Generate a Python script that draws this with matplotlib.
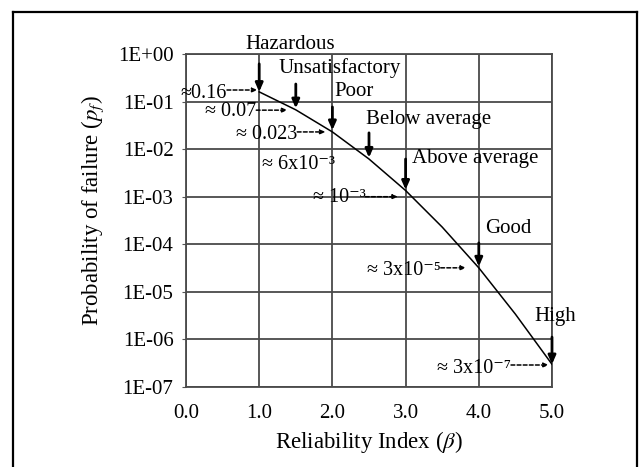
import matplotlib
matplotlib.use("Agg")
import matplotlib.pyplot as plt
from matplotlib.lines import Line2D

plt.rcParams["font.family"] = ["Liberation Serif", "DejaVu Serif"]
plt.rcParams["mathtext.fontset"] = "stix"

# curva beta - pf
beta = [1.0, 1.5, 2.0, 2.5, 3.0, 3.5, 4.0, 4.5, 5.0]
pf = [0.16, 0.067, 0.023, 6.2e-3, 1.35e-3, 2.3e-4, 3.2e-5, 3.4e-6, 3.0e-7]

# niveles de desempeño (flechas verticales)
niveles = ["Hazardous", "Unsatisfactory", "Poor", "Below average",
           "Above average", "Good", "High"]
beta_niveles = [1.0, 1.5, 2.0, 2.5, 3.0, 4.0, 5.0]

# etiquetas aproximadas de pf (flechas horizontales)
etiquetas_pf = ["≈0.16", "≈ 0.07", "≈ 0.023", "≈ 6x10⁻³", "≈ 10⁻³",
                "≈ 3x10⁻⁵", "≈ 3x10⁻⁷"]

yticks = [1, 1e-1, 1e-2, 1e-3, 1e-4, 1e-5, 1e-6, 1e-7]
yticklabels = ["1E+00", "1E-01", "1E-02", "1E-03", "1E-04", "1E-05", "1E-06", "1E-07"]
xticks = [0, 1, 2, 3, 4, 5]
xticklabels = ["0.0", "1.0", "2.0", "3.0", "4.0", "5.0"]

fig = plt.figure(figsize=(6.4, 4.67), dpi=100)
ax = fig.add_axes([186 / 640, 1 - 387 / 467, 366 / 640, 333 / 467])

ax.set_yscale("log")
ax.set_xlim(0, 5)
ax.set_ylim(1e-7, 1)
ax.set_xticks(xticks)
ax.set_xticklabels(xticklabels)
ax.set_yticks(yticks)
ax.set_yticklabels(yticklabels)
ax.minorticks_off()
ax.tick_params(axis="y", labelsize=15, length=3, pad=6, color="#555555")
ax.tick_params(axis="x", labelsize=15, length=0, pad=12)
ax.grid(True, color="#4a4a4a", linewidth=1.3)
for s in ax.spines.values():
    s.set_color("#4a4a4a")
    s.set_linewidth(1.3)

ax.plot(beta, pf, color="black", linewidth=1.1, zorder=3)

ax.set_xlabel(r"Reliability Index ($\beta$)", fontsize=16.5)
ax.set_ylabel(r"Probability of failure ($p_f$)", fontsize=16.5)
ax.xaxis.set_label_coords(0.5, -0.125)
ax.yaxis.set_label_coords(-0.218, 0.53)

# GRÁFICA: flechas verticales con los niveles
flecha = dict(arrowstyle="-|>,head_length=0.5,head_width=0.22", color="black", lw=2.0,
              shrinkA=0, shrinkB=0)
# (posicion del texto) y (inicio, fin de la flecha) en coordenadas de datos
texto_niveles = [(1.42, 1.6), (2.1, 0.51), (2.3, 0.166), (3.32, 0.043),
                 (3.95, 0.0065), (4.4, 2.1e-4), (5.05, 3.1e-6)]
flecha_niveles = [(0.62, 0.16), (0.234, 0.072), (0.077, 0.025), (0.022, 0.0066),
                  (0.0062, 0.0014), (1.07e-4, 3.4e-5), (1.12e-6, 3.0e-7)]
for nombre, b, (tx, ty), (y0, y1) in zip(niveles, beta_niveles, texto_niveles, flecha_niveles):
    ax.text(tx, ty, nombre, fontsize=15, ha="center", va="center", zorder=5, clip_on=False)
    ax.annotate("", xy=(b, y1), xytext=(b, y0), arrowprops=flecha,
                annotation_clip=False, zorder=5)

# GRÁFICA: flechas horizontales punteadas con los valores de pf
punteada = dict(arrowstyle="-|>,head_length=0.3,head_width=0.12", color="black", lw=1.1,
                linestyle=(0, (2.5, 1.5)), shrinkA=0, shrinkB=0)
# (x del texto, y del texto, fin de la flecha, y de la flecha); None = sin flecha
pos_pf = [(0.56, 0.145, 0.98, 0.175), (0.96, 0.063, 1.39, 0.066),
          (1.52, 0.020, 1.91, 0.023), (1.04, 4.8e-3, None, None),
          (2.45, 9.5e-4, 2.9, 1.0e-3), (3.48, 2.8e-5, 3.83, 3.2e-5),
          (4.44, 2.4e-7, 4.96, 2.9e-7)]
for txt, (xr, yt, xe, ya) in zip(etiquetas_pf, pos_pf):
    if xe is None:
        ax.text(xr, yt, txt, fontsize=14.5, ha="left", va="center", zorder=5)
        continue
    ax.text(xr, yt, txt, fontsize=14.5, ha="right", va="center", zorder=5, clip_on=False)
    ax.annotate("", xy=(xe, ya), xytext=(xr, ya), arrowprops=punteada,
                annotation_clip=False, zorder=5)

# marco exterior de la figura
for xs, ys in [([13 / 640, 637 / 640], [1 - 12 / 467, 1 - 12 / 467]),
               ([13 / 640, 13 / 640], [-0.05, 1 - 12 / 467]),
               ([637 / 640, 637 / 640], [-0.05, 1 - 12 / 467])]:
    fig.add_artist(Line2D(xs, ys, color="black", linewidth=1.6))

fig.savefig("out.png", dpi=100)
